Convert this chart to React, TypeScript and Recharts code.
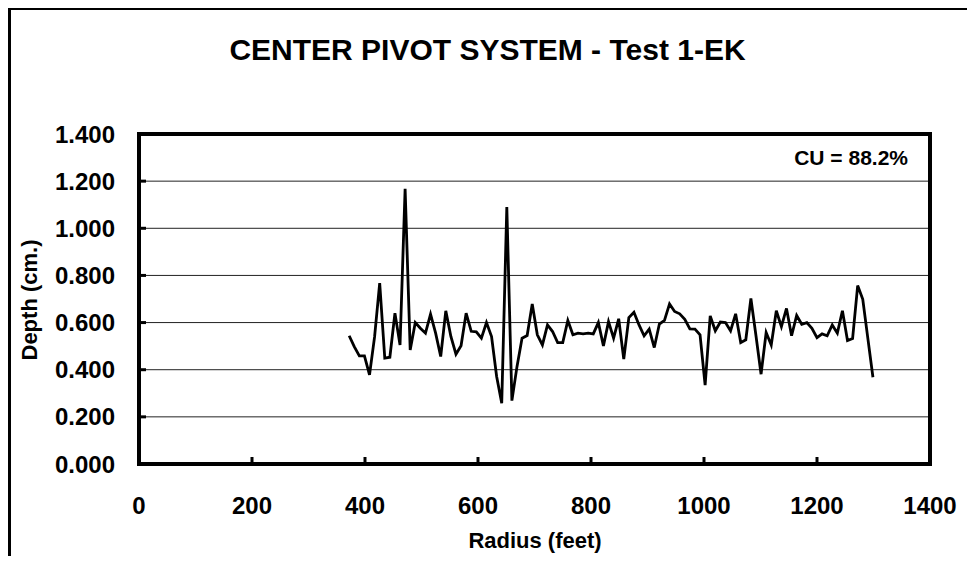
import React from "react";
import { LineChart, Line, XAxis, YAxis, CartesianGrid, ReferenceArea } from "recharts";

// radius of each catch can (feet) and the depth caught (cm.)
const radius = [
  372, 381, 390, 399, 408, 417, 426, 435, 444, 453,
  462, 471, 480, 489, 498, 507, 516, 525, 534, 543,
  552, 561, 570, 579, 588, 597, 606, 615, 624, 633,
  642, 651, 660, 669, 678, 687, 696, 705, 714, 723,
  732, 741, 750, 759, 768, 777, 786, 795, 804, 813,
  822, 831, 840, 849, 858, 867, 876, 885, 894, 903,
  912, 921, 930, 939, 948, 957, 966, 975, 984, 993,
  1002, 1011, 1020, 1029, 1038, 1047, 1056, 1065, 1074, 1083,
  1092, 1101, 1110, 1119, 1128, 1137, 1146, 1155, 1164, 1173,
  1182, 1191, 1200, 1209, 1218, 1227, 1236, 1245, 1254, 1263,
  1272, 1281, 1290, 1299,
];

const depth = [
  0.544, 0.498, 0.459, 0.459, 0.378, 0.54, 0.767, 0.449, 0.453, 0.64,
  0.505, 1.168, 0.484, 0.6, 0.576, 0.555, 0.636, 0.555, 0.456, 0.65,
  0.541, 0.466, 0.502, 0.64, 0.563, 0.561, 0.534, 0.6, 0.541, 0.371,
  0.258, 1.09, 0.269, 0.413, 0.534, 0.545, 0.679, 0.548, 0.505, 0.59,
  0.562, 0.515, 0.515, 0.609, 0.548, 0.555, 0.552, 0.555, 0.552, 0.6,
  0.501, 0.604, 0.534, 0.616, 0.445, 0.621, 0.644, 0.59, 0.544, 0.572,
  0.494, 0.594, 0.609, 0.679, 0.647, 0.637, 0.614, 0.573, 0.572, 0.548,
  0.335, 0.628, 0.565, 0.602, 0.6, 0.565, 0.637, 0.515, 0.527, 0.702,
  0.544, 0.381, 0.558, 0.505, 0.65, 0.583, 0.66, 0.544, 0.63, 0.593,
  0.6, 0.576, 0.536, 0.552, 0.544, 0.59, 0.555, 0.65, 0.524, 0.532,
  0.757, 0.699, 0.533, 0.368,
];

const xTicks = [0, 200, 400, 600, 800, 1000, 1200, 1400];
const yTicks = [0, 0.2, 0.4, 0.6, 0.8, 1.0, 1.2, 1.4];

const data = radius.map((r, i) => ({ radius: r, depth: depth[i] }));

const FONT = "'Liberation Sans', Arial, sans-serif";

const YTick = (props: any) => {
  const { x, y, payload } = props;
  return (
    <g>
      <line x1={x + 24} x2={x + 31} y1={y} y2={y} stroke="#000" strokeWidth={3} />
      <text x={x} y={y} dy="0.355em" textAnchor="end" fontSize={24} fontWeight="bold" fontFamily={FONT} fill="#000">
        {payload.value.toFixed(3)}
      </text>
    </g>
  );
};

const XTick = (props: any) => {
  const { x, y, payload } = props;
  return (
    <g>
      {payload.value > 0 && payload.value < 1400 && (
        <line x1={x} x2={x} y1={y - 33} y2={y - 40} stroke="#000" strokeWidth={3} />
      )}
      <text x={x} y={y} dy="0.71em" textAnchor="middle" fontSize={24} fontWeight="bold" fontFamily={FONT} fill="#000">
        {payload.value}
      </text>
    </g>
  );
};

export default function App() {
  return (
    <div style={{ position: "relative", width: 975, height: 564, margin: -8, background: "#fff", overflow: "hidden", fontFamily: FONT }}>
      <div
        style={{
          position: "absolute",
          left: 6,
          top: 5,
          width: 1100,
          height: 700,
          borderLeft: "5px solid #000",
          borderTop: "5px solid #000",
        }}
      />
      <div
        style={{
          position: "absolute",
          left: 0,
          top: 35,
          width: 975,
          textAlign: "center",
          fontSize: 30,
          lineHeight: "30px",
          fontWeight: "bold",
        }}
      >
        CENTER PIVOT SYSTEM - Test 1-EK
      </div>
      <LineChart width={975} height={564} data={data} margin={{ top: 134, right: 45, bottom: 30, left: 0 }}>
        <CartesianGrid horizontal vertical={false} stroke="#222" strokeWidth={1} />
        <XAxis
          dataKey="radius"
          type="number"
          domain={[0, 1400]}
          ticks={xTicks}
          height={70}
          axisLine={false}
          tickLine={false}
          tickSize={0}
          tickMargin={33}
          tick={<XTick />}
          interval={0}
        />
        <YAxis
          type="number"
          domain={[0, 1.4]}
          ticks={yTicks}
          width={139}
          axisLine={false}
          tickLine={false}
          tickSize={0}
          tickMargin={24}
          tick={<YTick />}
          interval={0}
        />
        <Line
          type="linear"
          dataKey="depth"
          stroke="#000"
          strokeWidth={2.8}
          dot={false}
          isAnimationActive={false}
        />
        <ReferenceArea x1={0} x2={1400} y1={0} y2={1.4} fill="none" stroke="#000" strokeWidth={4} />
      </LineChart>
      <div
        style={{
          position: "absolute",
          right: 975 - 908,
          top: 147,
          fontSize: 21,
          lineHeight: "21px",
          fontWeight: "bold",
        }}
      >
        CU = 88.2%
      </div>
      <div
        style={{
          position: "absolute",
          left: 0,
          top: 530,
          width: 1070,
          textAlign: "center",
          fontSize: 22,
          lineHeight: "22px",
          fontWeight: "bold",
        }}
      >
        Radius (feet)
      </div>
      <div
        style={{
          position: "absolute",
          left: 30,
          top: 300,
          transform: "translate(-50%, -50%) rotate(-90deg)",
          fontSize: 22,
          lineHeight: "22px",
          fontWeight: "bold",
          whiteSpace: "nowrap",
        }}
      >
        Depth (cm.)
      </div>
    </div>
  );
}
